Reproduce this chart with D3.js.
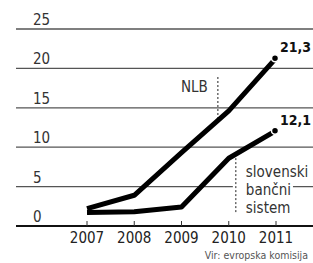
<!DOCTYPE html>
<html>
<head>
<meta charset="utf-8">
<script src="https://cdn.jsdelivr.net/npm/d3@7"></script>
<style>
  body { margin: 0; background: #fff; }
  text { font-family: "DejaVu Sans Condensed", "DejaVu Sans", sans-serif; }
</style>
</head>
<body>
<script>
var width = 313;
var height = 263;

var years = [2007, 2008, 2009, 2010, 2011];
var nlb = [2.2, 3.9, 9.3, 14.6, 21.3];
var banka = [1.7, 1.8, 2.4, 8.6, 12.1];
var yTicks = [0, 5, 10, 15, 20, 25];
var endLabels = ["21,3", "12,1"];
var source = "Vir: evropska komisija";

var x = d3.scaleLinear().domain([2007, 2011]).range([87, 276]);
var y = d3.scaleLinear().domain([0, 25]).range([226, 29]);

var svg = d3.select("body").append("svg")
    .attr("width", width)
    .attr("height", height);

// grid lines + y labels
svg.append("g").selectAll("line")
    .data(yTicks.filter(function(d) { return d > 0; }))
    .enter().append("line")
    .attr("x1", 16).attr("x2", width)
    .attr("y1", function(d) { return y(d); })
    .attr("y2", function(d) { return y(d); })
    .attr("stroke", "#555")
    .attr("stroke-width", 1.3);

svg.append("line")
    .attr("x1", 16).attr("x2", width)
    .attr("y1", y(0)).attr("y2", y(0))
    .attr("stroke", "#111")
    .attr("stroke-width", 2.2);

svg.append("g").selectAll("text")
    .data(yTicks)
    .enter().append("text")
    .attr("x", 33)
    .attr("y", function(d) { return y(d) - 4; })
    .attr("font-size", 15)
    .attr("fill", "#333")
    .text(function(d) { return d; });

// x axis ticks
var xAxis = svg.append("g");
xAxis.selectAll("line")
    .data(years)
    .enter().append("line")
    .attr("x1", function(d) { return x(d); })
    .attr("x2", function(d) { return x(d); })
    .attr("y1", y(0) - 5).attr("y2", y(0))
    .attr("stroke", "#333")
    .attr("stroke-width", 1);
xAxis.selectAll("text")
    .data(years)
    .enter().append("text")
    .attr("x", function(d) { return x(d); })
    .attr("y", 243)
    .attr("text-anchor", "middle")
    .attr("font-size", 15)
    .attr("fill", "#222")
    .text(function(d) { return d; });

function interp(vals, t) {
    var i = Math.min(Math.floor(t - 2007), 3);
    var f = t - 2007 - i;
    return vals[i] + (vals[i + 1] - vals[i]) * f;
}

// annotation for bank system (drawn first so the lines sit above)
var bx = 2010.15;
var bankLabel = svg.append("g");
var bankLines = ["slovenski", "bančni", "sistem"];
var bankText = bankLabel.selectAll("text")
    .data(bankLines)
    .enter().append("text")
    .attr("x", x(bx) + 10)
    .attr("y", function(d, i) { return 177 + i * 18; })
    .attr("font-size", 15)
    .attr("fill", "#333")
    .text(function(d) { return d; });
bankText.each(function() {
    var b = this.getBBox();
    bankLabel.insert("rect", "text")
        .attr("x", x(bx) - 3).attr("y", b.y)
        .attr("width", b.x + b.width - x(bx) + 5)
        .attr("height", b.height)
        .attr("fill", "#fff");
});
bankLabel.append("line")
    .attr("x1", x(bx)).attr("x2", x(bx))
    .attr("y1", y(interp(banka, bx))).attr("y2", 213)
    .attr("stroke", "#222")
    .attr("stroke-width", 1)
    .attr("stroke-dasharray", "2,2");

// NLB annotation
var nx = 2009.77;
svg.append("line")
    .attr("x1", x(nx)).attr("x2", x(nx))
    .attr("y1", 77).attr("y2", y(interp(nlb, nx)))
    .attr("stroke", "#222")
    .attr("stroke-width", 1)
    .attr("stroke-dasharray", "2,2");
svg.append("text")
    .attr("x", x(nx) - 10)
    .attr("y", 92)
    .attr("text-anchor", "end")
    .attr("font-size", 15)
    .attr("fill", "#333")
    .text("NLB");

// data lines
var line = d3.line()
    .x(function(d, i) { return x(years[i]); })
    .y(function(d) { return y(d); });

[nlb, banka].forEach(function(s, k) {
    svg.append("path")
        .attr("d", line(s))
        .attr("fill", "none")
        .attr("stroke", "#000")
        .attr("stroke-width", 5)
        .attr("stroke-linejoin", "round");
    svg.append("circle")
        .attr("cx", x(2011) - 1)
        .attr("cy", y(s[4]))
        .attr("r", 3.5)
        .attr("fill", "#000")
        .attr("stroke", "#fff")
        .attr("stroke-width", 1.5);
    svg.append("text")
        .attr("x", x(2011) + 4)
        .attr("y", y(s[4]) - 6)
        .attr("font-size", 14)
        .attr("font-weight", "bold")
        .attr("fill", "#111")
        .text(endLabels[k]);
});

svg.append("circle")
    .attr("cx", x(nx)).attr("cy", y(interp(nlb, nx)))
    .attr("r", 2).attr("fill", "#000");

svg.append("text")
    .attr("x", 308)
    .attr("y", 259)
    .attr("text-anchor", "end")
    .attr("font-size", 10.5)
    .attr("fill", "#555")
    .text(source);
</script>
</body>
</html>
